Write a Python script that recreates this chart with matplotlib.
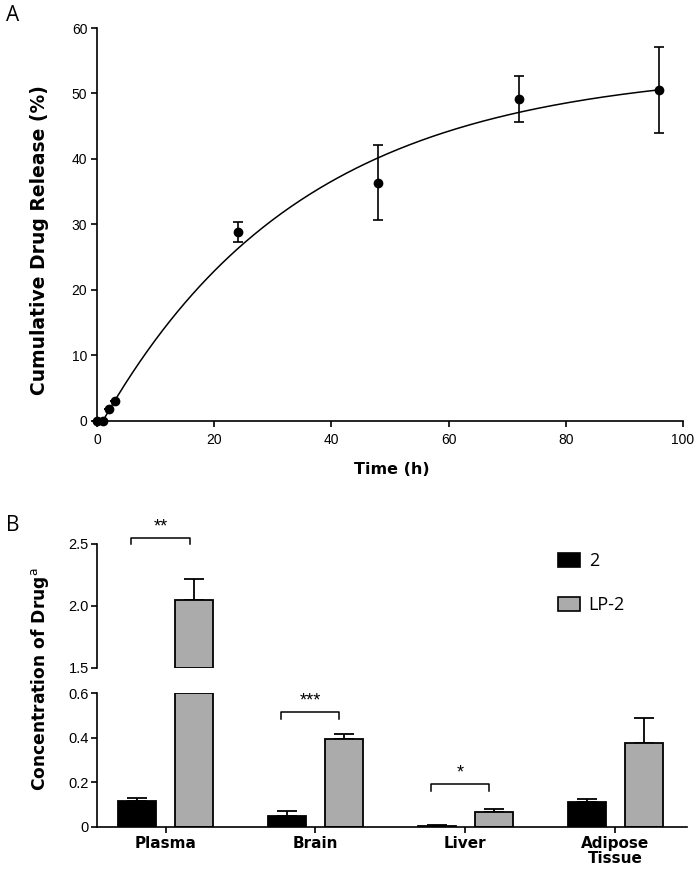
import numpy as np
import matplotlib
matplotlib.use("Agg")
import matplotlib.pyplot as plt
from matplotlib.patches import Patch

# =========================
# DATA
# =========================
# panel A: release profile
time_h = [0, 1, 2, 3, 24, 48, 72, 96]
release = [0.0, 0.0, 1.8, 3.0, 28.8, 36.4, 49.2, 50.5]
release_err = [0.0, 0.0, 0.0, 0.0, 1.5, 5.7, 3.5, 6.6]

# one-phase association fit: Y = ymax * (1 - exp(-k * (t - t0)))
fit_ymax = 54.0
fit_k = 0.029
fit_t0 = 1.0

# panel B: tissue distribution
tissues = ["Plasma", "Brain", "Liver", "Adipose\nTissue"]
conc_2 = [0.115, 0.05, 0.005, 0.11]
conc_2_err = [0.016, 0.021, 0.002, 0.015]
conc_lp2 = [2.05, 0.394, 0.068, 0.378]
conc_lp2_err = [0.17, 0.022, 0.012, 0.109]
sig_labels = ["**", "***", "*", ""]
sig_heights = [2.55, 0.515, 0.19, None]

series_labels = ["2", "LP-2"]
gray = "#ababab"

# =========================
# FIGURE
# =========================
fig = plt.figure(figsize=(7, 8.75), dpi=100)
tick_font = "Liberation Sans"

# ---- panel A ----
axA = fig.add_axes([0.1386, 0.519, 0.837, 0.449])
t_fit = np.linspace(fit_t0, 96, 300)
axA.plot(t_fit, fit_ymax * (1 - np.exp(-fit_k * (t_fit - fit_t0))),
         color="black", lw=1.1, clip_on=False)
axA.errorbar(time_h, release, yerr=release_err, fmt="o", color="black",
             ms=6, elinewidth=1.2, capsize=3.5, capthick=1.2, clip_on=False)
axA.set_xlim(0, 100)
axA.set_ylim(0, 60)
axA.set_xticks(range(0, 101, 20))
axA.set_yticks(range(0, 61, 10))
for s in ["top", "right"]:
    axA.spines[s].set_visible(False)
for s in ["left", "bottom"]:
    axA.spines[s].set_linewidth(1.2)
axA.tick_params(width=1.2, length=4, labelsize=10, pad=3)
axA.tick_params(axis="x", pad=5)
for lab in axA.get_xticklabels() + axA.get_yticklabels():
    lab.set_fontfamily(tick_font)
fig.text(392 / 700, 1 - 470 / 875, "Time (h)", ha="center", va="center",
         fontsize=11.5, fontweight="bold")
fig.text(40 / 700, 1 - 240 / 875, "Cumulative Drug Release (%)", rotation=90,
         ha="center", va="center", fontsize=13.5, fontweight="bold")

# ---- panel B ----
x = np.arange(len(tissues))
bw = 0.255
off = 0.19

axB = fig.add_axes([0.1386, 0.0552, 0.843, 0.1525])   # lower: 0 - 0.6
axU = fig.add_axes([0.1386, 0.2369, 0.843, 0.1414])   # upper: 1.5 - 2.5
lo_top = 0.6
up_lo, up_hi = 1.5, 2.5

c2 = np.array(conc_2)
clp = np.array(conc_lp2)
err_lo_2 = [np.zeros(len(x)), conc_2_err]
axB.errorbar(x - off, c2, yerr=err_lo_2, fmt="none", ecolor="black",
             elinewidth=1.3, capsize=7, capthick=1.3, zorder=1)
axB.bar(x - off, c2, bw, color="black", edgecolor="black", lw=1.3, zorder=2)

lp_low = np.minimum(clp, lo_top)
show_err = clp <= lo_top
axB.errorbar((x + off)[show_err], clp[show_err],
             yerr=[np.zeros(show_err.sum()), np.array(conc_lp2_err)[show_err]],
             fmt="none", ecolor="black", elinewidth=1.3, capsize=7,
             capthick=1.3, zorder=1)
axB.bar(x + off, lp_low, bw, color=gray, edgecolor="black", lw=1.3, zorder=2)

# upper part of broken axis
high = clp > up_lo
axU.errorbar((x + off)[high], clp[high],
             yerr=[np.zeros(high.sum()), np.array(conc_lp2_err)[high]],
             fmt="none", ecolor="black", elinewidth=1.3, capsize=7,
             capthick=1.3, zorder=1)
axU.bar((x + off)[high], clp[high] - up_lo, bw, bottom=up_lo, color=gray,
        edgecolor="black", lw=1.3, zorder=2)

for ax in (axB, axU):
    ax.set_xlim(-0.458, 3.48)
    for s in ["top", "right"]:
        ax.spines[s].set_visible(False)
    ax.spines["left"].set_linewidth(1.2)
    ax.spines["bottom"].set_linewidth(1.2)
    ax.tick_params(width=1.2, length=4, labelsize=10.5, pad=2)

axB.set_ylim(0, lo_top)
axB.set_yticks([0, 0.2, 0.4, 0.6])
axB.set_yticklabels(["0", "0.2", "0.4", "0.6"])
axB.set_xticks(x)
axB.set_xticklabels(tissues, fontsize=11, fontweight="bold", linespacing=1.0)
axB.tick_params(axis="x", length=4, pad=3)

axU.set_ylim(up_lo, up_hi)
axU.set_yticks([1.5, 2.0, 2.5])
axU.set_yticklabels(["1.5", "2.0", "2.5"])
axU.spines["bottom"].set_visible(False)
axU.set_xticks([])
axU.patch.set_alpha(0)

for lab in axB.get_yticklabels() + axU.get_yticklabels():
    lab.set_fontfamily(tick_font)

# significance brackets
for i, (lab, h) in enumerate(zip(sig_labels, sig_heights)):
    if not lab:
        continue
    ax = axU if h > up_lo else axB
    drop = 0.05 if ax is axU else 0.03
    xl, xr = i - 0.23, i + 0.16
    ax.plot([xl, xl, xr, xr], [h - drop, h, h, h - drop], color="black",
            lw=1.1, clip_on=False)
    ax.text((xl + xr) / 2, h + drop * 0.4, lab, ha="center", va="bottom",
            fontsize=13, fontfamily=tick_font)

fig.text(40 / 700, 1 - 679 / 875, r"Concentration of Drug$^{\mathrm{a}}$",
         rotation=90, ha="center", va="center", fontsize=12.3, fontweight="bold")

handles = [Patch(facecolor="black", edgecolor="black", lw=1.2),
           Patch(facecolor=gray, edgecolor="black", lw=1.2)]
fig.legend(handles, series_labels, loc="upper left",
           bbox_to_anchor=(558 / 700, 1 - 552 / 875), frameon=False,
           prop={"family": "Open Sans", "size": 13}, handlelength=1.2,
           handleheight=0.85, handletextpad=0.5, labelspacing=1.45,
           borderpad=0, borderaxespad=0)

fig.text(0.008, 0.994, "A", ha="left", va="top", fontsize=15,
         fontfamily="Open Sans")
fig.text(0.008, 1 - 515 / 875, "B", ha="left", va="top", fontsize=15,
         fontfamily="Open Sans")

fig.savefig("out.png", dpi=100)
